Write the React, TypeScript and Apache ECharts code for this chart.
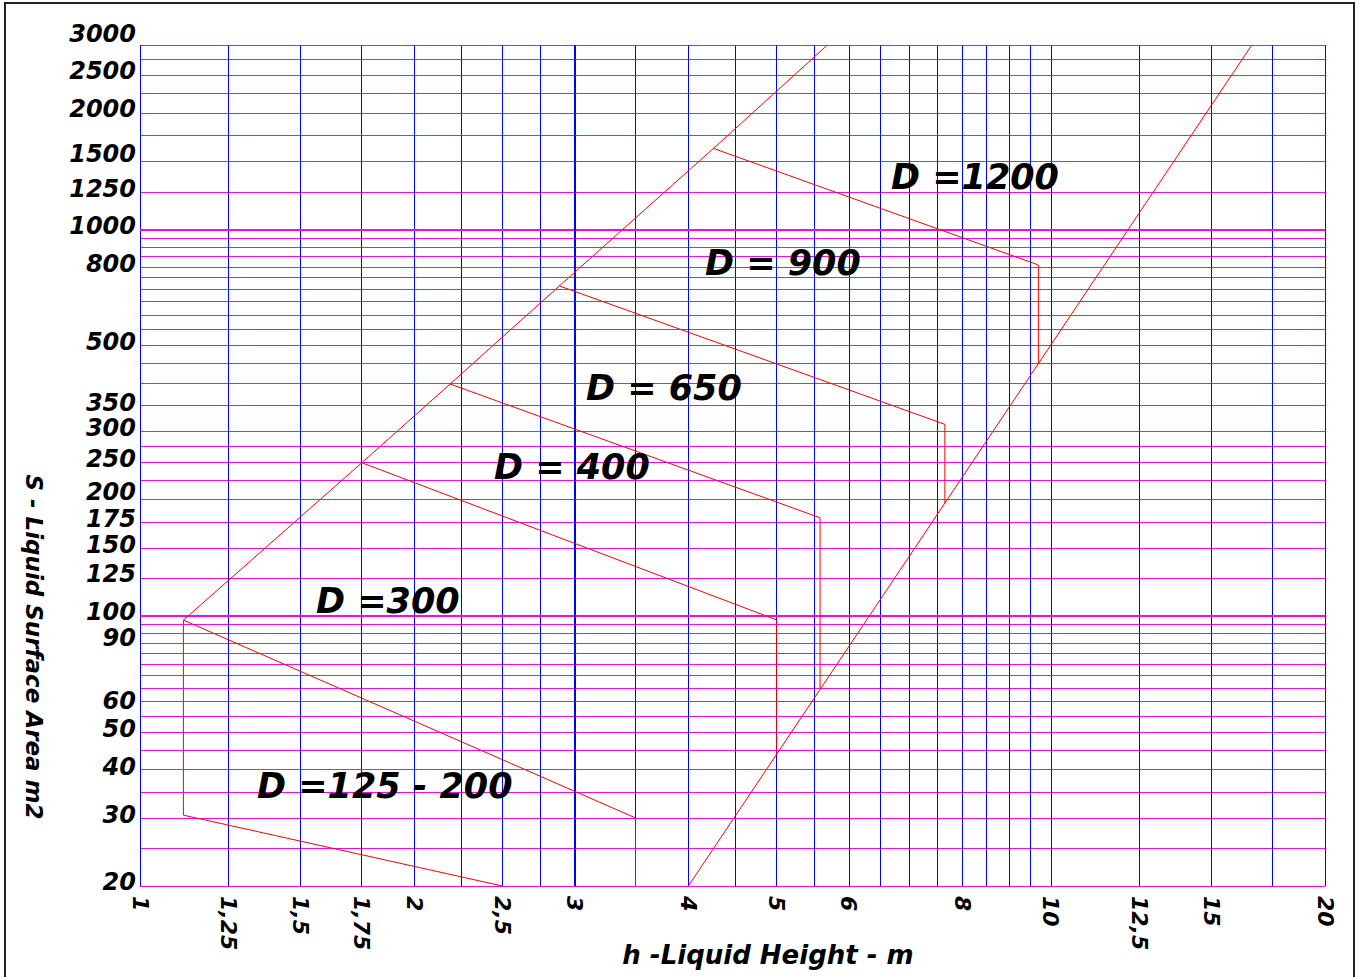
import React, { useEffect, useRef } from "react";
import * as echarts from "echarts";

// Grid values (log-log chart paper)
const xGrid = [1, 1.25, 1.5, 1.75, 2, 2.25, 2.5, 2.75, 3, 3.5, 4, 4.5, 5, 5.5, 6, 6.5, 7, 7.5, 8, 8.5, 9, 9.5, 10, 12.5, 15, 17.5, 20];
const yGrid = [20, 25, 30, 35, 40, 45, 50, 55, 60, 65, 70, 75, 80, 85, 90, 95, 100, 125, 150, 175, 200, 225, 250, 275, 300, 350, 400, 450, 500, 550, 600, 650, 700, 750, 800, 850, 900, 950, 1000, 1250, 1500, 1750, 2000, 2250, 2500, 2750, 3000];
const xLabels = [1, 1.25, 1.5, 1.75, 2, 2.5, 3, 4, 5, 6, 8, 10, 12.5, 15, 20];
const yLabels = [20, 30, 40, 50, 60, 90, 100, 125, 150, 175, 200, 250, 300, 350, 500, 800, 1000, 1250, 1500, 2000, 2500];
const yTopLabel = [3000];
const yBold = [100, 1000];
const xBold = [3];

// Curves [h, S]
const leftEnvelope = [[1.116, 97.5], [1.752, 249], [2.19, 398], [2.887, 714], [4.262, 1620], [5.685, 3000]];
const rightEnvelope = [[4.0, 20], [16.62, 3000]];
const d125Upper = [[1.116, 30.5], [1.116, 97.5], [3.5, 30], [3.5, 20]];
const d125Lower = [[1.116, 30.5], [2.5, 20]];
const d300 = [[1.752, 249], [5.0, 97.6], [5.0, 44.1]];
const d400 = [[2.19, 398], [5.58, 179.4], [5.58, 64.9]];
const d650 = [[2.887, 714], [7.65, 313], [7.65, 195.7]];
const d900 = [[4.262, 1620], [9.69, 809], [9.69, 448]];

const regionLabels = ["D =1200", "D = 900", "D = 650", "D = 400", "D =300", "D =125 - 200"];
const xName = "h -Liquid Height - m";
const yName = "S - Liquid Surface Area m2";

const FONT = '"DejaVu Sans", sans-serif';

// label lift above its grid line, px (layout only)
const yLabelLift: Record<number, number> = { 3000: 11, 2500: 5, 2000: 4, 1500: 7, 500: 4, 200: 8, 125: 4, 100: 4, 90: -4, 60: 1, 20: 4 };
const DEFAULT_LIFT = 3;

export default function App() {
  const ref = useRef<HTMLDivElement>(null);
  useEffect(() => {
    if (!ref.current) return;
    const chart = echarts.init(ref.current, undefined, { renderer: "svg" });
    const redLine = (name: string, data: number[][]) => ({
      name,
      type: "line",
      data,
      yAxisIndex: 0,
      showSymbol: false,
      symbol: "none",
      silent: true,
      lineStyle: { color: "#ff0000", width: 1 },
      z: 5,
    });
    const labelPos = [
      [891, 177],
      [705, 263],
      [586, 388],
      [494, 467],
      [316, 601],
      [257, 786],
    ];
    const rich: Record<string, any> = {};
    const richName = (v: number) => {
      const lift = yLabelLift[v] ?? DEFAULT_LIFT;
      const key = lift >= 0 ? "u" + lift : "d" + -lift;
      if (!rich[key]) {
        rich[key] = {
          fontFamily: FONT,
          fontStyle: "italic",
          fontWeight: "bold",
          fontSize: 24,
          lineHeight: 14,
          color: "#000",
          padding: lift >= 0 ? [0, 0, 2 * lift, 0] : [-2 * lift, 0, 0, 0],
        };
      }
      return key;
    };
    yLabels.forEach(richName);
    yTopLabel.forEach(richName);

    const yLabelStyle = {
      showMinLabel: true,
      showMaxLabel: true,
      hideOverlap: false,
      margin: 4,
      fontFamily: FONT,
      fontStyle: "italic",
      fontWeight: "bold",
      fontSize: 24,
      color: "#000",
      verticalAlign: "middle",
      formatter: (v: number) => `{${richName(v)}|${v}}`,
      rich,
    };

    chart.setOption({
      animation: false,
      backgroundColor: "#ffffff",
      grid: { left: 140, top: 45, right: 36, bottom: 91, containLabel: false },
      xAxis: {
        type: "log",
        logBase: 10,
        min: 1,
        max: 20,
        axisLine: { show: false },
        axisTick: { show: false, customValues: xGrid },
        splitLine: { show: true, lineStyle: { color: "#0000ff", width: 1 } },
        axisLabel: {
          customValues: xLabels,
          showMinLabel: true,
          showMaxLabel: true,
          hideOverlap: false,
          rotate: -90,
          margin: 10,
          fontFamily: FONT,
          fontStyle: "italic",
          fontWeight: "bold",
          fontSize: 22,
          color: "#000",
          formatter: (v: number) => String(v).replace(".", ","),
        },
      },
      yAxis: [
        {
          type: "log",
          logBase: 10,
          min: 20,
          max: 3000,
          position: "left",
          axisLine: { show: false },
          axisTick: { show: false, customValues: yGrid },
          splitLine: { show: true, lineStyle: { color: "#ff00ff", width: 1 } },
          axisLabel: { ...yLabelStyle, customValues: yLabels },
        },
        {
          type: "log",
          logBase: 10,
          min: 20,
          max: 3000,
          position: "left",
          offset: 0,
          axisLine: { show: false },
          axisTick: { show: false, customValues: yTopLabel },
          splitLine: { show: false },
          axisLabel: { ...yLabelStyle, customValues: yTopLabel },
        },
      ],
      series: [
        {
          name: "boldGrid",
          type: "line",
          data: [],
          yAxisIndex: 0,
          silent: true,
          z: 3,
          markLine: {
            silent: true,
            symbol: "none",
            label: { show: false },
            animation: false,
            data: [
              ...yBold.map((v) => ({ yAxis: v, lineStyle: { color: "#ff00ff", width: 2, type: "solid" } })),
              ...xBold.map((v) => ({ xAxis: v, lineStyle: { color: "#0000ff", width: 2, type: "solid" } })),
            ],
          },
        },
        redLine("left", leftEnvelope),
        redLine("right", rightEnvelope),
        redLine("d125u", d125Upper),
        redLine("d125l", d125Lower),
        redLine("d300", d300),
        redLine("d400", d400),
        redLine("d650", d650),
        redLine("d900", d900),
      ],
      graphic: [
        {
          type: "rect",
          silent: true,
          shape: { x: 5, y: 3, width: 1349, height: 1000 },
          style: { fill: "none", stroke: "#222", lineWidth: 2 },
        },
        ...regionLabels.map((t, i) => ({
          type: "text",
          silent: true,
          x: labelPos[i][0],
          y: labelPos[i][1],
          z: 10,
          style: {
            text: t,
            font: `italic bold 35px ${FONT}`,
            fill: "#000",
            align: "left",
            verticalAlign: "middle",
          },
        })),
        {
          type: "text",
          silent: true,
          x: 768,
          y: 955,
          style: {
            text: xName,
            font: `italic bold 26px ${FONT}`,
            fill: "#000",
            align: "center",
            verticalAlign: "middle",
          },
        },
        {
          type: "text",
          silent: true,
          x: 34,
          y: 647,
          rotation: -Math.PI / 2,
          style: {
            text: yName,
            font: `italic bold 23px ${FONT}`,
            fill: "#000",
            align: "center",
            verticalAlign: "middle",
          },
        },
      ],
    });
    return () => chart.dispose();
  }, []);
  return (
    <div
      ref={ref}
      style={{ position: "absolute", left: 0, top: 0, width: 1361, height: 977 }}
    />
  );
}
